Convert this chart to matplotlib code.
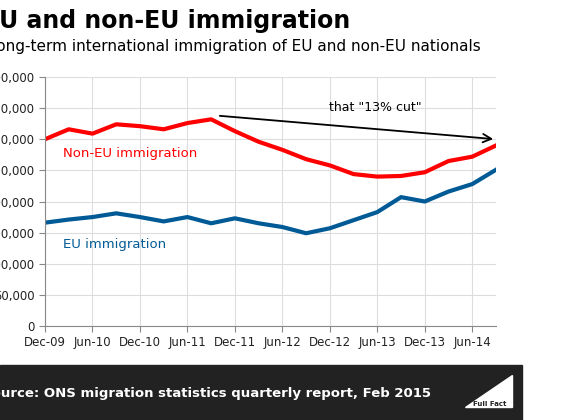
import matplotlib
matplotlib.use("Agg")
import matplotlib.pyplot as plt
from matplotlib.patches import Rectangle, Polygon

quarters = list(range(20))
tick_labels = ["Dec-09", "Jun-10", "Dec-10", "Jun-11", "Dec-11", "Jun-12",
               "Dec-12", "Jun-13", "Dec-13", "Jun-14"]
non_eu = [300, 316, 309, 324, 321, 316, 326, 332, 313, 296,
          283, 268, 258, 244, 240, 241, 247, 265, 272, 290]
eu = [166, 171, 175, 181, 175, 168, 175, 165, 173, 165,
      159, 149, 157, 170, 183, 207, 200, 216, 228, 251]
non_eu = [v * 1000 for v in non_eu]
eu = [v * 1000 for v in eu]
yticks = [0, 50000, 100000, 150000, 200000, 250000, 300000, 350000, 400000]

W, H = 561, 420
fig = plt.figure(figsize=(W / 100, H / 100), dpi=100)
ax = fig.add_axes([45 / W, 94 / H, (496 - 45) / W, (326 - 77) / H])

ax.plot(quarters, non_eu, color="#ff0000", lw=3, solid_joinstyle="round")
ax.plot(quarters, eu, color="#005a96", lw=3, solid_joinstyle="round")

ax.set_xlim(0, 19)
ax.set_ylim(0, 400000)
ax.set_yticks(yticks)
ax.set_yticklabels([f"{v:,}" for v in yticks])
ax.set_xticks(range(0, 20, 2))
ax.set_xticklabels(tick_labels)
ax.grid(True, color="#dddddd", lw=0.8)
ax.set_axisbelow(True)
for s in ["top", "right"]:
    ax.spines[s].set_visible(False)
for s in ["left", "bottom"]:
    ax.spines[s].set_color("#888888")
ax.tick_params(colors="#888888", labelcolor="#222222", labelsize=8.5, length=4)

ax.text(0.75, 272000, "Non-EU immigration", color="#ff0000", fontsize=9.5)
ax.text(0.75, 125000, "EU immigration", color="#005a96", fontsize=9.5)
ax.annotate("", xy=(19, 300000), xytext=(7.25, 338000),
            arrowprops=dict(arrowstyle="->", color="black", lw=1.3, mutation_scale=15))
ax.text(13.9, 351000, 'that "13% cut"', fontsize=9, ha="center", va="center")

fig.text(-17 / W, 1 - 21 / H, "EU and non-EU immigration", fontsize=17,
         fontweight="bold", va="center", ha="left")
fig.text(-12 / W, 1 - 47 / H,
         "Long-term international immigration of EU and non-EU nationals",
         fontsize=11, va="center", ha="left")

fig.patches.append(Rectangle((0, 0), 522 / W, 55 / H, transform=fig.transFigure,
                             color="#222222", zorder=0))
fig.text(-18 / W, 27 / H, "Source: ONS migration statistics quarterly report, Feb 2015",
         color="white", fontsize=9.5, fontweight="bold", va="center")
fig.patches.append(Polygon([(465 / W, 13 / H), (512 / W, 13 / H), (512 / W, 45 / H)],
                           closed=True, transform=fig.transFigure, color="white"))
fig.text(490 / W, 16 / H, "Full Fact", color="#222222", fontsize=5, ha="center",
         va="center", fontweight="bold")

fig.savefig("out.png", dpi=100)
